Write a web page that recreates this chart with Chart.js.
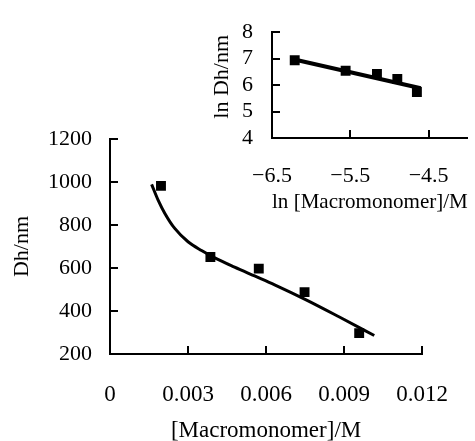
<!DOCTYPE html>
<html><head><meta charset="utf-8">
<script src="https://cdn.jsdelivr.net/npm/chart.js@4"></script>
<style>
html,body{margin:0;padding:0;background:#fff;overflow:hidden;width:475px;height:441px;}
#main{position:absolute;left:0;top:0;}
#inset{position:absolute;left:200px;top:0;}
</style></head><body>
<canvas id="main" width="475" height="446"></canvas>
<canvas id="inset" width="275" height="225"></canvas>
<script>
// ---- Main chart data ----
const concX = [0.00196, 0.00386, 0.00572, 0.00748, 0.00958];
const dhY = [982, 651, 597, 488, 297];
const fitX = [0.0016, 0.00185, 0.00211, 0.00249, 0.0030, 0.00352, 0.00403, 0.00479, 0.00556, 0.00633, 0.00754, 0.00882, 0.01016];
const fitY = [989, 916, 854, 784, 722, 681, 647, 604, 563, 522, 452, 372, 286];
const mainXTicks = [0, 0.003, 0.006, 0.009, 0.012];
const mainXLabels = ['0', '0.003', '0.006', '0.009', '0.012'];
const mainYTicks = [200, 400, 600, 800, 1000, 1200];
const mainYLabels = ['200', '400', '600', '800', '1000', '1200'];

// ---- Inset chart data ----
const lnConcX = [-6.21, -5.56, -5.16, -4.90, -4.65];
const lnDhY = [6.94, 6.54, 6.42, 6.23, 5.74];
const lnFitX = [-6.20, -4.60];
const lnFitY = [6.96, 5.88];
const insetXTicks = [-6.5, -5.5, -4.5];
const insetXLabels = ['\u22126.5', '\u22125.5', '\u22124.5'];
const insetYTicks = [4, 5, 6, 7, 8];
const insetYLabels = ['4', '5', '6', '7', '8'];

Chart.defaults.font.family = '"Liberation Serif", "Times New Roman", serif';
Chart.defaults.color = '#000';

const pts = (xs, ys) => xs.map((x, i) => ({x: x, y: ys[i]}));

const innerTicks = {
  id: 'innerTicks',
  afterDraw(chart, args, opts) {
    const ctx = chart.ctx;
    const xs = chart.scales.x, ys = chart.scales.y;
    const len = opts.len || 8;
    ctx.save();
    ctx.strokeStyle = '#000';
    ctx.lineWidth = 2;
    xs.ticks.forEach(t => {
      const px = Math.round(xs.getPixelForValue(t.value));
      ctx.beginPath(); ctx.moveTo(px, xs.top); ctx.lineTo(px, xs.top - len); ctx.stroke();
    });
    ys.ticks.forEach(t => {
      const py = Math.round(ys.getPixelForValue(t.value));
      ctx.beginPath(); ctx.moveTo(ys.right, py); ctx.lineTo(ys.right + len, py); ctx.stroke();
    });
    ctx.restore();
  }
};

function axis(opts) {
  return {
    type: 'linear', min: opts.min, max: opts.max,
    afterBuildTicks: s => { s.ticks = opts.ticks.map(v => ({value: v})); },
    afterFit: opts.fit,
    grid: {display: true, drawOnChartArea: false, drawTicks: false},
    border: {display: true, color: '#000', width: 2},
    ticks: {padding: opts.pad, color: '#000', font: {size: opts.tsize}, autoSkip: false, maxRotation: 0,
      callback: (v, i) => opts.labels[i]},
    title: {display: true, text: opts.title, color: '#000', font: {size: opts.titleSize},
      padding: {top: opts.tpad, bottom: opts.tpad}}
  };
}

new Chart(document.getElementById('main'), {
  type: 'scatter',
  data: {
    datasets: [
      {data: pts(fitX, fitY), showLine: true, borderColor: '#000', borderWidth: 3, pointRadius: 0,
       cubicInterpolationMode: 'monotone', fill: false},
      {data: pts(concX, dhY), pointStyle: 'rect', pointRadius: 7, pointBorderWidth: 0,
       backgroundColor: '#000', borderColor: '#000'}
    ]
  },
  options: {
    responsive: false, animation: false, devicePixelRatio: 1,
    layout: {padding: {left: 0, right: 52, top: 139, bottom: 0}},
    plugins: {legend: {display: false}, tooltip: {enabled: false}, innerTicks: {len: 8}},
    scales: {
      x: axis({min: 0, max: 0.012, ticks: mainXTicks, labels: mainXLabels, pad: 27, tsize: 23,
        title: '[Macromonomer]/M', titleSize: 23, tpad: 1, fit: s => { s.height = 92; }}),
      y: axis({min: 200, max: 1200, ticks: mainYTicks, labels: mainYLabels, pad: 18, tsize: 22,
        title: 'Dh/nm', titleSize: 22, tpad: 9, fit: s => { s.width = 110; }})
    }
  },
  plugins: [innerTicks]
});

new Chart(document.getElementById('inset'), {
  type: 'scatter',
  data: {
    datasets: [
      {data: pts(lnFitX, lnFitY), showLine: true, borderColor: '#000', borderWidth: 4, pointRadius: 0, fill: false},
      {data: pts(lnConcX, lnDhY), pointStyle: 'rect', pointRadius: 7, pointBorderWidth: 0,
       backgroundColor: '#000', borderColor: '#000'}
    ]
  },
  options: {
    responsive: false, animation: false, devicePixelRatio: 1,
    layout: {padding: {left: 0, right: 2, top: 24, bottom: 0}},
    plugins: {legend: {display: false}, tooltip: {enabled: false}, innerTicks: {len: 8}},
    scales: {
      x: axis({min: -6.5, max: -4, ticks: insetXTicks, labels: insetXLabels, pad: 25, tsize: 22,
        title: 'ln [Macromonomer]/M', titleSize: 22, tpad: 10, fit: s => { s.height = 87; }}),
      y: axis({min: 4, max: 8, ticks: insetYTicks, labels: insetYLabels, pad: 19, tsize: 22,
        title: '   ln Dh/nm', titleSize: 22, tpad: 9, fit: s => { s.width = 72; }})
    }
  },
  plugins: [innerTicks]
});
</script>
</body></html>
